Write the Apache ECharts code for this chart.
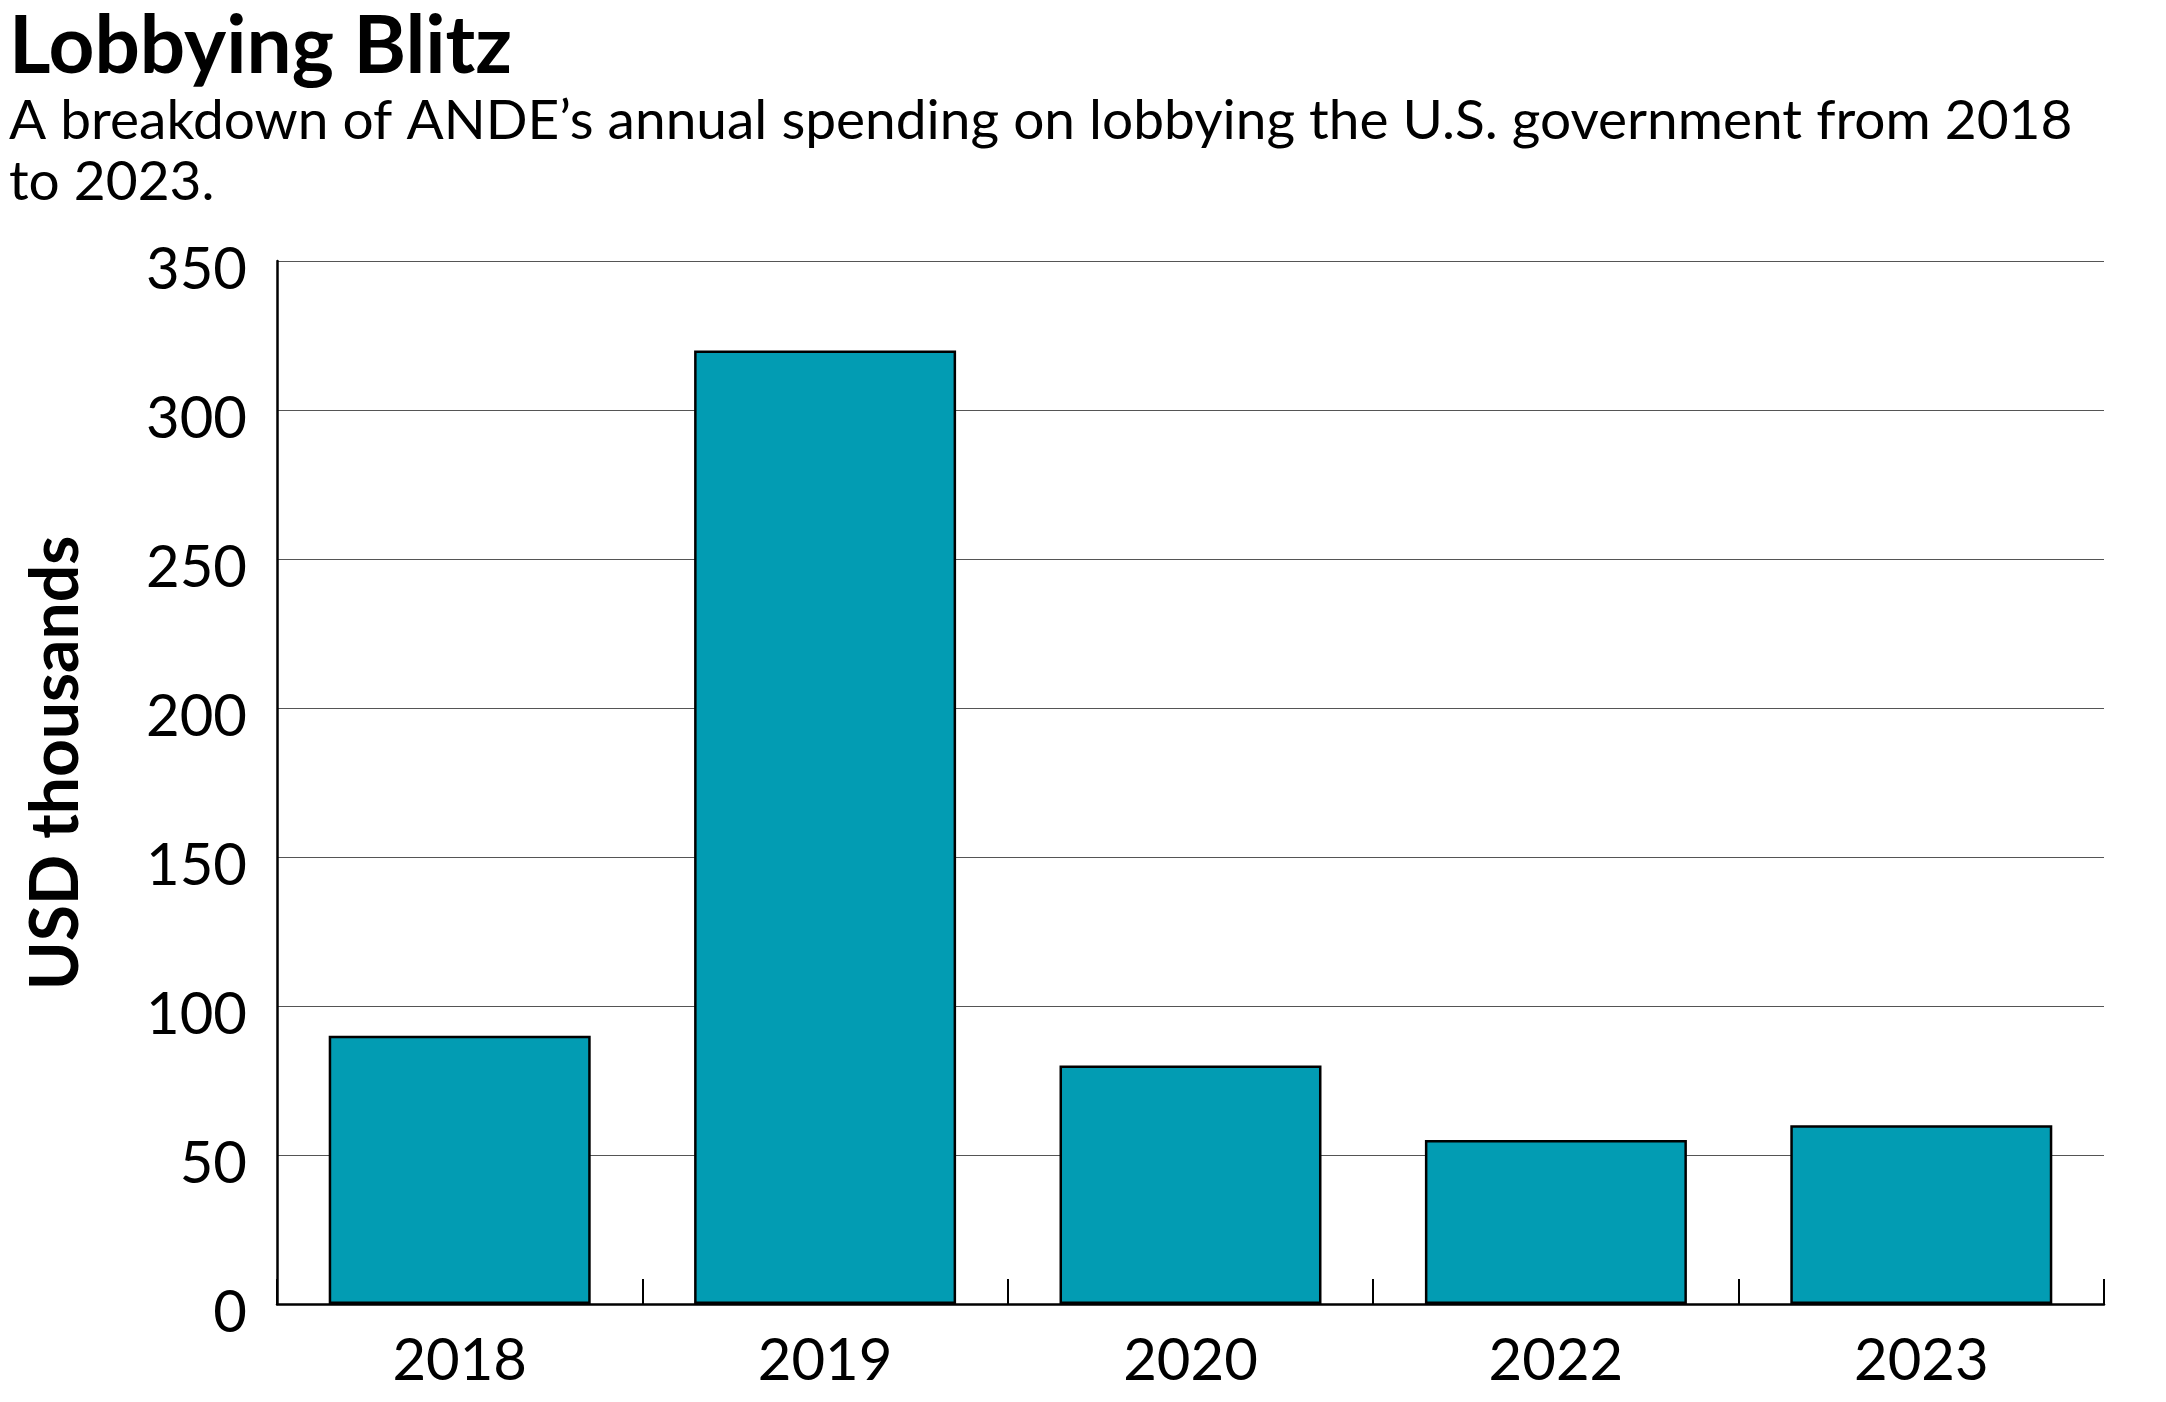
<!DOCTYPE html>
<html>
<head>
<meta charset="utf-8">
<script src="https://cdn.jsdelivr.net/npm/echarts@6/dist/echarts.min.js"></script>
<style>
html,body{margin:0;padding:0;background:#fff;}
#chart{width:2166px;height:1402px;}
</style>
</head>
<body>
<div id="chart"></div>
<script>
const categories = ['2018', '2019', '2020', '2022', '2023'];
const spending = [90, 320, 80, 55, 60];
const yTicks = { min: 0, max: 350, interval: 50 };
const titleText = 'Lobbying Blitz';
const subtitleText = 'A breakdown of ANDE\u2019s annual spending on lobbying the U.S. government from 2018\nto 2023.';
const yAxisName = 'USD thousands';

const FONT = 'Lato';
const chart = echarts.init(document.getElementById('chart'), null, { renderer: 'canvas' });
chart.setOption({
  backgroundColor: '#ffffff',
  animation: false,
  title: {
    text: titleText,
    subtext: subtitleText,
    left: 4,
    top: -2,
    itemGap: 0,
    textStyle: { fontFamily: FONT, fontWeight: 'bold', fontSize: 80, color: '#000', lineHeight: 88 },
    subtextStyle: { fontFamily: FONT, fontWeight: 'normal', fontSize: 55, color: '#000', lineHeight: 61 }
  },
  grid: { left: 277, right: 62, top: 261, bottom: 98, containLabel: false },
  xAxis: {
    type: 'category',
    data: categories,
    boundaryGap: true,
    axisLine: { show: true, lineStyle: { color: '#000', width: 2.5 } },
    axisTick: { show: true, inside: true, length: 25, alignWithLabel: false, lineStyle: { color: '#000', width: 2 } },
    axisLabel: { fontFamily: FONT, fontSize: 58, color: '#000', margin: 28 },
    splitLine: { show: false }
  },
  yAxis: {
    type: 'value',
    min: yTicks.min,
    max: yTicks.max,
    interval: yTicks.interval,
    axisLine: { show: true, lineStyle: { color: '#000', width: 2.5 } },
    axisTick: { show: false },
    axisLabel: {
      margin: 30,
      formatter: '{v|{value}}',
      rich: { v: { fontFamily: FONT, fontSize: 58, color: '#000', padding: [18, 0, 0, 0] } }
    },
    splitLine: { show: true, lineStyle: { color: '#555', width: 1.2 } }
  },
  graphic: [{
    type: 'text',
    x: 57,
    y: 763,
    rotation: Math.PI / 2,
    style: {
      text: yAxisName,
      fontFamily: FONT,
      fontWeight: 'bold',
      fontSize: 66,
      fill: '#000',
      align: 'center',
      verticalAlign: 'middle'
    }
  }],
  series: [{
    type: 'bar',
    data: spending,
    barWidth: '71.7%',
    itemStyle: { color: '#029CB3', borderColor: '#000', borderWidth: 2.5 },
    z: 3
  }]
});
</script>
</body>
</html>
